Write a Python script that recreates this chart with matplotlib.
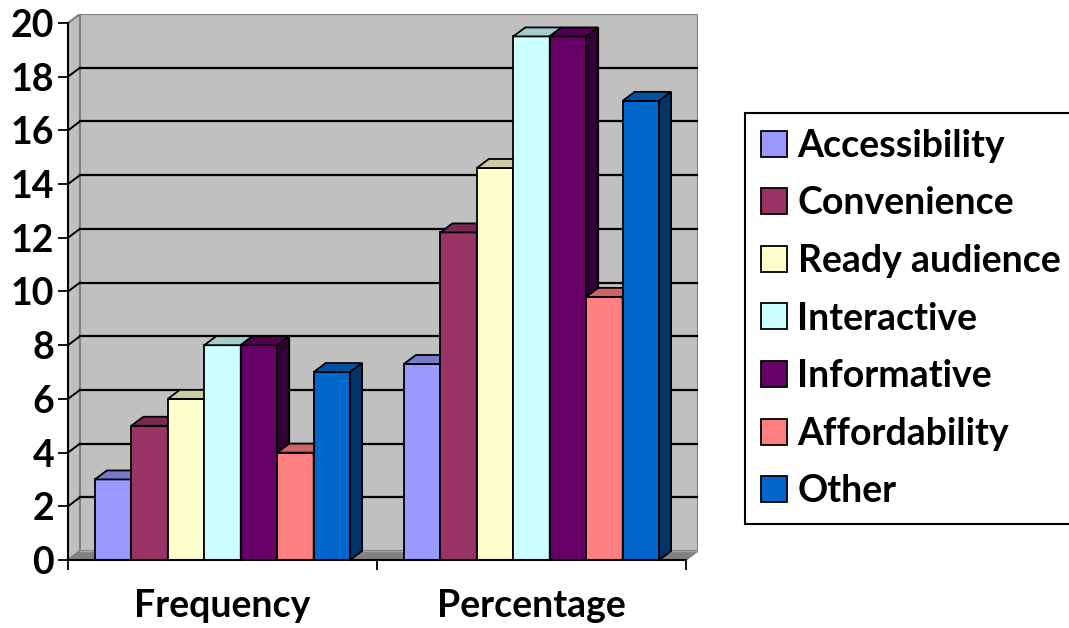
import matplotlib
matplotlib.use("Agg")
import matplotlib.pyplot as plt
from matplotlib.colors import to_rgb
from matplotlib.patches import Patch
import numpy as np

categories = ["Frequency", "Percentage"]
series = ["Accessibility", "Convenience", "Ready audience", "Interactive",
          "Informative", "Affordability", "Other"]
frequency = [3, 5, 6, 8, 8, 4, 7]
percentage = [7.3, 12.2, 14.6, 19.5, 19.5, 9.8, 17.1]
colors = ["#9999FF", "#993366", "#FFFFCC", "#CCFFFF", "#660066", "#FF8080", "#0066CC"]
y_ticks = list(range(0, 21, 2))

plt.rcParams['font.family'] = ['Lato', 'DejaVu Sans']
plt.rcParams['font.weight'] = 'bold'
FS = 27

# fake 3d depth, in data units
DX = 0.0388
DY = 0.335
BAR_W = 0.118
GAP = 0.087
YMAX = 20


def shade(c, f):
    return tuple(np.array(to_rgb(c)) * f)


fig = plt.figure(figsize=(10.69, 6.28), dpi=100)
ax = fig.add_axes([68 / 1069, 68 / 628, 630 / 1069, 546 / 628])
ax.set_xlim(0, len(categories) + DX)
ax.set_ylim(0, YMAX + DY)
ax.patch.set_visible(False)

n_cat = len(categories)
# walls and floor
ax.fill([0, DX, DX, 0], [0, DY, YMAX + DY, YMAX], facecolor="#C0C0C0",
        edgecolor="#808080", lw=1.5, zorder=1)
ax.fill([DX, n_cat + DX, n_cat + DX, DX], [DY, DY, YMAX + DY, YMAX + DY],
        facecolor="#C0C0C0", edgecolor="#808080", lw=1.5, zorder=1)
ax.fill([0, n_cat, n_cat + DX, DX], [0, 0, DY, DY], facecolor="#808080",
        edgecolor="#808080", lw=1, zorder=1)
ax.plot([DX, n_cat + DX], [DY, DY], color="#A6A6A6", lw=1, zorder=1.5)

for t in y_ticks[1:-1]:
    ax.plot([DX, n_cat + DX], [t + DY, t + DY], color="black", lw=1.6, zorder=2)
    ax.plot([0, DX], [t, t + DY], color="black", lw=1.4, zorder=2)

# bars, drawn left to right so the next bar hides the previous side face
z = 3
for ci, vals in enumerate([frequency, percentage]):
    for si, (v, c) in enumerate(zip(vals, colors)):
        x0 = ci + GAP + si * BAR_W
        x1 = x0 + BAR_W
        ax.bar(x0, v, width=BAR_W, align="edge", color=c, edgecolor="black",
               lw=1.3, zorder=z)
        ax.fill([x0, x1, x1 + DX, x0 + DX], [v, v, v + DY, v + DY],
                facecolor=shade(c, 0.8), edgecolor="black", lw=1.3, zorder=z + 0.1)
        ax.fill([x1, x1 + DX, x1 + DX, x1], [0, DY, v + DY, v],
                facecolor=shade(c, 0.5), edgecolor="black", lw=1.3, zorder=z + 0.2)
        z += 1

for side in ["top", "right"]:
    ax.spines[side].set_visible(False)
ax.spines["left"].set_bounds(0, YMAX)
ax.spines["bottom"].set_bounds(0, n_cat)
for side in ["left", "bottom"]:
    ax.spines[side].set_linewidth(1.5)
    ax.spines[side].set_zorder(50)

ax.set_yticks(y_ticks)
ax.set_yticklabels([str(t) for t in y_ticks], fontsize=FS, fontweight="bold")
ax.tick_params(axis="y", length=7, width=1.3, pad=3)
ax.set_xticks(range(n_cat + 1))
ax.set_xticklabels([])
ax.tick_params(axis="x", which="major", length=7, width=1.3)
ax.set_xticks([i + 0.5 for i in range(n_cat)], minor=True)
ax.set_xticklabels(categories, minor=True, fontsize=FS, fontweight="bold")
ax.tick_params(axis="x", which="minor", length=0, pad=21)

handles = [Patch(facecolor=c, edgecolor="black", lw=1.3) for c in colors]
leg = fig.legend(handles, series, loc="upper left",
                 bbox_to_anchor=(745 / 1069, 1 - 113 / 628),
                 prop={"size": FS, "weight": "bold"},
                 handlelength=0.69, handleheight=0.69, handletextpad=0.29,
                 labelspacing=0.63, borderpad=0.42, borderaxespad=0,
                 fancybox=False, framealpha=1)
leg.get_frame().set_edgecolor("black")
leg.get_frame().set_linewidth(1.5)

fig.savefig("out.png", dpi=100)
